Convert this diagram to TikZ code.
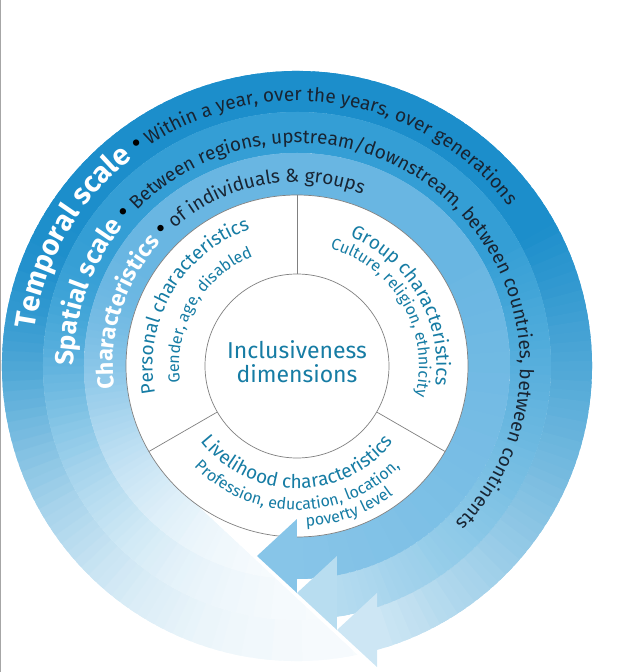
\documentclass[tikz,border=0pt]{standalone}
\usepackage{fontspec}
\setmainfont{Fira Sans}
\usetikzlibrary{decorations.text}

\definecolor{tempblue}{RGB}{28,142,203}
\definecolor{spatblue}{RGB}{52,158,213}
\definecolor{charblue}{RGB}{105,182,226}
\definecolor{dimteal}{RGB}{22,124,164}
\definecolor{scaleink}{RGB}{24,36,50}

\newcommand{\bandhead}[1]{\fontsize{#1}{#1}\selectfont\bfseries\color{white}}
\newcommand{\bandmark}{\fontsize{28}{28}\selectfont\color{black}}
\newcommand{\bandtext}{\fontsize{19}{22}\selectfont\color{scaleink}}
\newcommand{\secthead}{\fontsize{19}{22}\selectfont\color{dimteal}}
\newcommand{\sectsub}{\fontsize{16}{18}\selectfont\color{dimteal}}

\tikzset{
    band label/.style={decorate, decoration={text along path, text={#1}}},
    sector label/.style={decorate, decoration={text along path,
                         text align=center, text={#1}}},
    ring line/.style={draw=black!50, line width=0.7pt},
}

% one scale band: colour, inner/outer radius, tail angle outer/inner,
% end angle outer/inner, percent of colour left at the arrow end
\newcommand{\scaleband}[8]{%
    \begin{scope}
        \clip (#4:#3) arc[start angle=#4, end angle=#6, radius=#3]
            -- (#7:#2) arc[start angle=#7, end angle=#5, radius=#2] -- cycle;
        \pgfmathtruncatemacro{\sliceA}{#4+2}
        \pgfmathtruncatemacro{\sliceB}{\sliceA-2}
        \pgfmathtruncatemacro{\sliceZ}{#7}
        \foreach \a in {\sliceA,\sliceB,...,\sliceZ} {
            \pgfmathsetmacro{\tailu}{min(max(\a-150,0)/62,2.8)}
            \pgfmathsetmacro{\tailpct}{3+97*exp(0-\tailu*\tailu)}
            \pgfmathsetmacro{\endpct}{min(100,#8+(100-#8)*((\a+80)/110))}
            \pgfmathtruncatemacro{\pct}{\tailpct*(\endpct/100)}
            \fill[#1!\pct] (0,0) -- (\a:340) -- ({\a-3.5}:340) -- cycle;
        }
    \end{scope}}

\begin{document}
\begin{tikzpicture}[x=1pt, y=1pt]
    \useasboundingbox (-297,-306) rectangle (343,366);
    \draw[black!35, line width=1pt] (-296.5,-306) -- (-296.5,366);

    % Scale bands, outer to inner
    \scaleband{tempblue}{254}{295}{281.81}{274.99}{-74.26}{-71.64}{16}
    \scaleband{spatblue}{213}{254}{274.99}{264.05}{-80.94}{-79.18}{36}
    \scaleband{charblue}{171}{213}{264.05}{233.2}{-90}{-90}{82}

    % White ring with the three dimensions
    \fill[white] (0,0) circle[radius=171];
    \draw[ring line] (0,0) circle[radius=171];
    \node[circle, ring line, fill=white, minimum size=184, inner sep=0] (core) at (0,0) {};
    \coordinate (rimN)  at (90:171);
    \coordinate (rimSW) at (210:171);
    \coordinate (rimSE) at (330:171);
    \draw[ring line] (core.90)  -- (rimN);
    \draw[ring line] (core.210) -- (rimSW);
    \draw[ring line] (core.330) -- (rimSE);
    \node[align=center, text=dimteal, font=\fontsize{23}{24}\selectfont] (coretext)
        at (0,4) {Inclusiveness\\dimensions};

    % Arrow heads at the band ends
    \coordinate (tipC)   at (-40,-190);
    \coordinate (tipS)   at (0,-227);
    \coordinate (tipT)   at (40,-264);
    \coordinate (tipEnd) at (80,-301);
    \coordinate (barbC)  at (0,-153);
    \coordinate (barbS)  at (40,-190);
    \coordinate (barbT)  at (80,-227);
    \fill[charblue!80] (tipC) -- (barbC) -- (tipS) -- cycle;
    \fill[spatblue!35] (tipS) -- (barbS) -- (tipT) -- cycle;
    \fill[tempblue!22] (tipT) -- (barbT) -- (tipEnd) -- cycle;

    % Band texts
    \path[band label={|\bandhead{29}|Temporal scale |\bandmark|{\textbullet}|\bandtext| Within a year, over the years, over generations}]
        (172:265) arc[start angle=172, end angle=0, radius=265];
    \path[band label={|\bandhead{26}|Spatial scale |\bandmark|{\textbullet}|\bandtext| Between regions, upstream/downstream, between countries, between continents}]
        (180:223) arc[start angle=180, end angle=-70, radius=223];
    \path[band label={|\bandhead{23}|Characteristics |\bandmark|{\textbullet}|\bandtext| of individuals {\&} groups}]
        (187:184) arc[start angle=187, end angle=40, radius=184];

    % Sector texts
    \path[sector label={|\secthead|Personal characteristics}]
        (205:144.5) arc[start angle=205, end angle=95, radius=144.5];
    \path[sector label={|\sectsub|Gender, age, disabled}]
        (205:118) arc[start angle=205, end angle=95, radius=118];
    \path[sector label={|\secthead|Group characteristics}]
        (85:139.5) arc[start angle=85, end angle=-25, radius=139.5];
    \path[sector label={|\sectsub|Culture, religion, ethnicity}]
        (85:122) arc[start angle=85, end angle=-25, radius=122];
    \path[sector label={|\secthead|Livelihood characteristics}]
        (212:122.5) arc[start angle=212, end angle=328, radius=122.5];
    \path[sector label={|\sectsub|Profession, education, location,}]
        (215:144) arc[start angle=215, end angle=325, radius=144];
    \path[sector label={|\sectsub|poverty level}]
        (255:161) arc[start angle=255, end angle=325, radius=161];
\end{tikzpicture}
\end{document}
